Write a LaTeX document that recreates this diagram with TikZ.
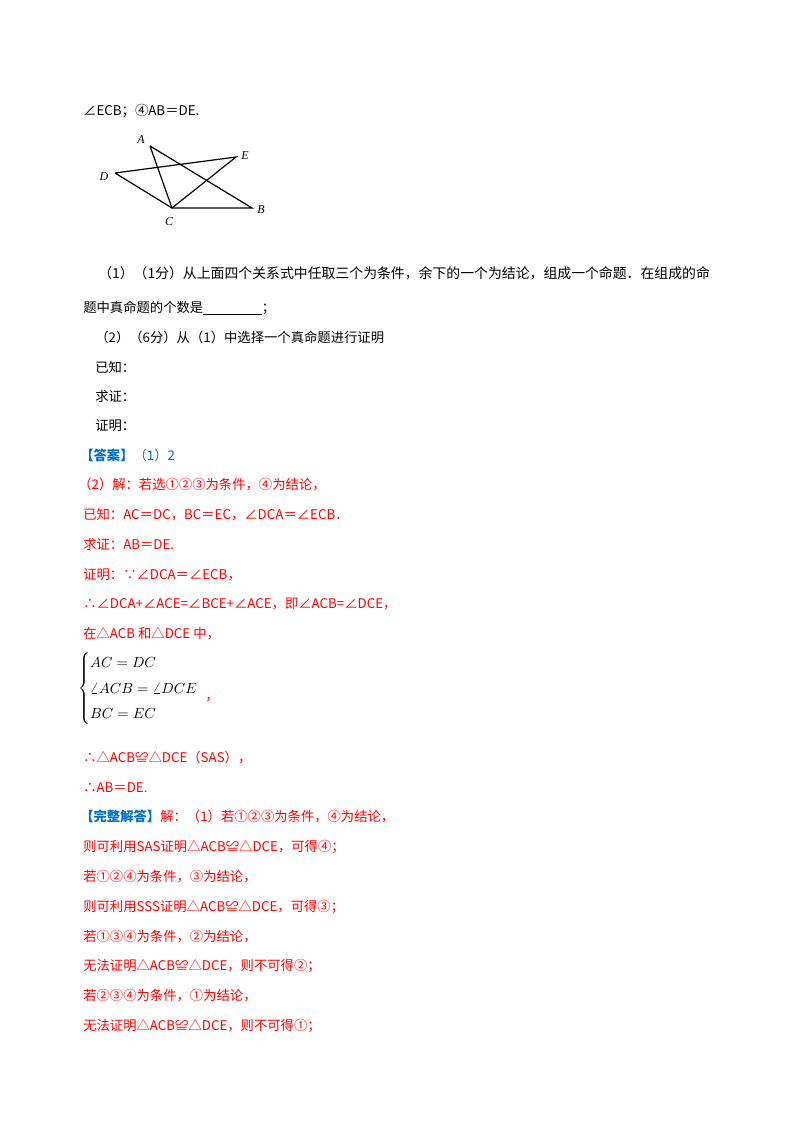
\documentclass[tikz,border=0pt]{standalone}
\usepackage{fontspec}
\setmainfont{Noto Sans CJK SC}
\newfontfamily\lat{Liberation Serif}
\begin{document}
\begin{tikzpicture}[x=0.75pt,y=-0.75pt,
  t/.style={anchor=base west,inner sep=0pt,font=\fontsize{10pt}{12pt}\selectfont},
  r/.style={t,text=red},
  b/.style={t,text=ansblue},
  lbl/.style={inner sep=0pt,font=\lat\itshape\fontsize{9pt}{10pt}\selectfont}]
\definecolor{ansblue}{RGB}{0,112,192}
\useasboundingbox (0,0) rectangle (800,1132);
% figure
\coordinate (A) at (150,146);
\coordinate (E) at (236,157);
\coordinate (D) at (115,173);
\coordinate (C) at (172,208);
\coordinate (B) at (252,208);
\draw[line width=0.9pt] (A) -- (B) -- (C) -- (A);
\draw[line width=0.9pt] (D) -- (E) -- (C) -- (D);
\node[lbl] (la) at (141,140) {A};
\node[lbl] (le) at (245,156) {E};
\node[lbl] (ld) at (104,177) {D};
\node[lbl] (lc) at (169,222) {C};
\node[lbl] (lb) at (261,210) {B};
% question text
\node[t] (q0) at (83,115) {∠ECB；④AB＝DE.};
\node[t,font=\fontsize{10.4pt}{12pt}\selectfont] (q1) at (98,278) {（1）（1分）从上面四个关系式中任取三个为条件，余下的一个为结论，组成一个命题．在组成的命};
\node[t] (q2) at (83,312) {题中真命题的个数是\underline{\hspace{44pt}}；};
\node[t] (q3) at (95,342) {（2）（6分）从（1）中选择一个真命题进行证明};
\node[t] (q4) at (95,372) {已知：};
\node[t] (q5) at (95,401) {求证：};
\node[t] (q6) at (95,430) {证明：};
% answer
\node[b] (a0) at (80,460) {\textbf{【答案】}（1）2};
\node[r] (a1) at (78,489) {（2）解：若选①②③为条件，④为结论，};
\node[r] (a2) at (83,519) {已知：AC＝DC，BC＝EC，∠DCA＝∠ECB．};
\node[r] (a3) at (83,549) {求证：AB＝DE.};
\node[r] (a4) at (83,579) {证明：∵∠DCA＝∠ECB，};
\node[r] (a5) at (83,608) {∴∠DCA+∠ACE=∠BCE+∠ACE，即∠ACB=∠DCE，};
\node[r] (a6) at (83,638) {在△ACB 和△DCE 中，};
\node[anchor=west,inner sep=0pt,font=\fontsize{11pt}{14pt}\selectfont] (sys) at (78,688)
  {$\renewcommand{\arraystretch}{1.35}\left\{\begin{array}{@{}l@{}}AC=DC\\ \angle ACB=\angle DCE\\ BC=EC\end{array}\right.$};
\node[r] (cm) at (205,700) {，};
\node[r] (a7) at (83,762) {∴△ACB≌△DCE（SAS），};
\node[r] (a8) at (83,792) {∴AB＝DE.};
\node[b] (f0) at (80,821) {\textbf{【完整解答】}\textcolor{red}{解：（1）若①②③为条件，④为结论，}};
\node[r] (f1) at (83,851) {则可利用SAS证明△ACB≌△DCE，可得④；};
\node[r] (f2) at (83,881) {若①②④为条件，③为结论，};
\node[r] (f3) at (83,911) {则可利用SSS证明△ACB≌△DCE，可得③；};
\node[r] (f4) at (83,941) {若①③④为条件，②为结论，};
\node[r] (f5) at (83,970) {无法证明△ACB≌△DCE，则不可得②；};
\node[r] (f6) at (83,1000) {若②③④为条件，①为结论，};
\node[r] (f7) at (83,1030) {无法证明△ACB≌△DCE，则不可得①；};
\end{tikzpicture}
\end{document}
